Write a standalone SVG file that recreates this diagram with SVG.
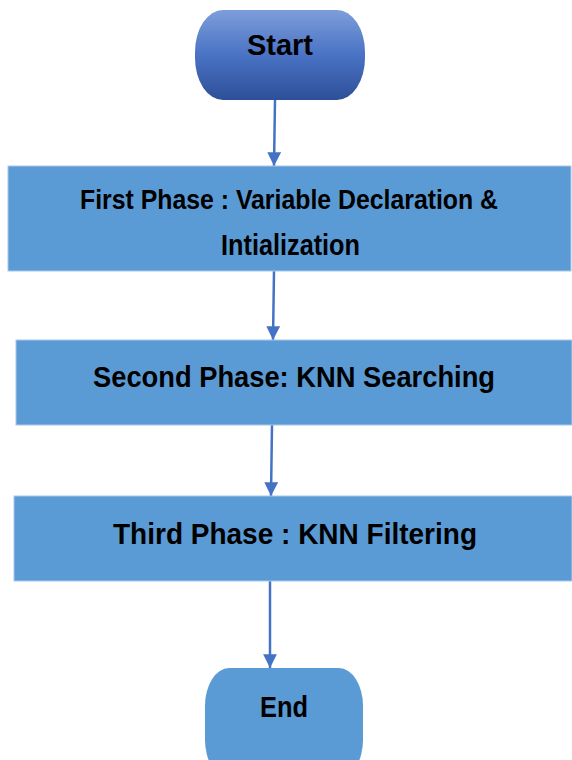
<svg xmlns="http://www.w3.org/2000/svg" width="572" height="760" viewBox="0 0 572 760">
<style>
.box{fill:#5b9bd5;stroke:#a9c8ea;stroke-width:1}
.t{font-family:"Liberation Sans",Arial,sans-serif;font-weight:bold;font-size:30px;fill:#000;text-anchor:start}
.s{font-size:28px}
.c{stroke:#4472c4;stroke-width:2.5;fill:none}
</style>
<defs>
<linearGradient id="g" x1="0" y1="0" x2="0" y2="1">
<stop offset="0" stop-color="#7e9dda"/>
<stop offset="0.5" stop-color="#4a73c5"/>
<stop offset="1" stop-color="#2d4f98"/>
</linearGradient>
<marker id="a" viewBox="0 0 10 10" refX="10" refY="5" markerWidth="6" markerHeight="5.5" markerUnits="strokeWidth" orient="auto">
<path d="M0,0 L10,5 L0,10 z" fill="#4472c4"/>
</marker>
</defs>
<rect width="572" height="760" fill="#fff"/>
<g id="connectors">
<line class="c" x1="275" y1="100" x2="274" y2="166" marker-end="url(#a)"/>
<line class="c" x1="274" y1="271" x2="273" y2="340" marker-end="url(#a)"/>
<line class="c" x1="272" y1="425" x2="271" y2="496" marker-end="url(#a)"/>
<line class="c" x1="270" y1="581" x2="270" y2="668" marker-end="url(#a)"/>
</g>
<g id="start">
<rect x="195" y="10" width="170" height="90" rx="28" ry="42" fill="url(#g)"/>
<text class="t" x="247" y="55" textLength="66" lengthAdjust="spacingAndGlyphs">Start</text>
</g>
<g id="phase1">
<rect class="box" x="8" y="166" width="563" height="105"/>
<text class="t s" x="80" y="209" textLength="418" lengthAdjust="spacingAndGlyphs">First Phase : Variable Declaration &amp;</text>
<text class="t" x="221" y="255" textLength="139" lengthAdjust="spacingAndGlyphs">Intialization</text>
</g>
<g id="phase2">
<rect class="box" x="16" y="340" width="556" height="85"/>
<text class="t" x="93" y="387" textLength="402" lengthAdjust="spacingAndGlyphs">Second Phase: KNN Searching</text>
</g>
<g id="phase3">
<rect class="box" x="14" y="496" width="558" height="85"/>
<text class="t" x="113" y="544" textLength="364" lengthAdjust="spacingAndGlyphs">Third Phase : KNN Filtering</text>
</g>
<g id="end">
<rect x="205" y="668" width="158" height="110" rx="24" ry="38" fill="#5b9bd5"/>
<text class="t" x="260" y="717" textLength="48" lengthAdjust="spacingAndGlyphs">End</text>
</g>
</svg>
